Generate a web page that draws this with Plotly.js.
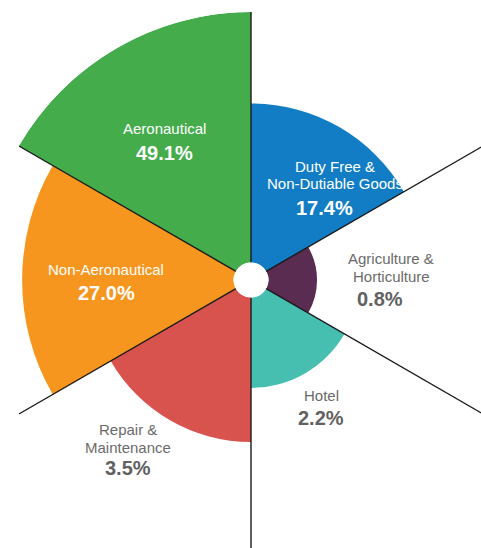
<!DOCTYPE html>
<html>
<head>
<meta charset="utf-8">
<script src="https://cdn.plot.ly/plotly-3.0.1.min.js"></script>
<style>
html,body{margin:0;padding:0;overflow:hidden;background:#fff;width:481px;height:548px;}
#chart{position:absolute;left:-17px;top:6px;width:536px;height:548px;}
</style>
</head>
<body>
<div id="chart"></div>
<script>
// ---- data ----
const categories = ['Duty Free &<br>Non-Dutiable Goods', 'Agriculture &<br>Horticulture', 'Hotel', 'Repair &<br>Maintenance', 'Non-Aeronautical', 'Aeronautical'];
const shares = [17.4, 0.8, 2.2, 3.5, 27.0, 49.1];
const barLength = [63.5, 19.4, 36.1, 57.7, 84.4, 100];
const colors = ['#127dc4', '#5b2c51', '#46bfb1', '#d9534e', '#f6961e', '#44ac4b'];

// ---- layout helpers ----
const W = 536, H = 548, offX = -17, offY = 6;
const step = 360 / categories.length;
const theta = categories.map((c, i) => i * step);
const boundaries = categories.map((c, i) => i * step + step / 2);
const rMax = 100;

const lineR = [], lineT = [];
boundaries.forEach(b => { lineR.push(0, rMax, null); lineT.push(b, b, null); });

// label placement in window pixels (centre of name block, centre of value)
const labelPos = [
  {x: 335, vx: 324, y: 175, vy: 208, inside: true},
  {x: 391, vx: 380, y: 267.5, vy: 299, inside: false},
  {x: 321, vx: 321, y: 395, vy: 418, inside: false},
  {x: 128, vx: 128, y: 438.5, vy: 468, inside: false},
  {x: 106, vx: 106, y: 269, vy: 293, inside: true},
  {x: 164, vx: 164, y: 129, vy: 153, inside: true}
];
const lineGap = 17.5;
const px = x => (x - offX) / W;
const py = y => 1 - (y - offY) / H;

const annotations = [];
categories.forEach((c, i) => {
  const p = labelPos[i];
  const col = p.inside ? '#ffffff' : '#6b6b6b';
  const parts = c.split('<br>');
  parts.forEach((t, k) => {
    annotations.push({
      xref: 'paper', yref: 'paper', x: px(p.x), y: py(p.y + (k - (parts.length - 1) / 2) * lineGap),
      text: t, showarrow: false, xanchor: 'center', yanchor: 'middle', align: 'center',
      font: {family: 'Liberation Sans, Arial, sans-serif', size: 15, color: col}
    });
  });
  annotations.push({
    xref: 'paper', yref: 'paper', x: px(p.vx), y: py(p.vy), text: '<b>' + shares[i].toFixed(1) + '%</b>', showarrow: false,
    xanchor: 'center', yanchor: 'middle',
    font: {family: 'Liberation Sans, Arial, sans-serif', size: 20, color: p.inside ? '#ffffff' : '#616161'}
  });
});

const traces = [
  {
    type: 'barpolar', r: barLength, theta: theta, width: step,
    marker: {color: colors, line: {width: 0}},
    hoverinfo: 'skip', showlegend: false
  },
  {
    type: 'scatterpolar', mode: 'lines', r: lineR, theta: lineT,
    line: {color: '#1a1a1a', width: 1.4}, hoverinfo: 'skip', showlegend: false,
    connectgaps: false
  }
];

const layout = {
  width: W, height: H,
  margin: {l: 0, r: 0, t: 0, b: 0},
  paper_bgcolor: '#ffffff',
  showlegend: false,
  polar: {
    domain: {x: [0, 1], y: [0, 1]},
    bgcolor: 'rgba(0,0,0,0)',
    hole: 0.065,
    bargap: 0,
    radialaxis: {visible: false, range: [0, rMax]},
    angularaxis: {
      rotation: 60, direction: 'clockwise', thetaunit: 'degrees',
      showgrid: false, showline: false, showticklabels: false, ticks: ''
    }
  },
  annotations: annotations
};

Plotly.newPlot('chart', traces, layout, {displayModeBar: false, staticPlot: true});
</script>
</body>
</html>
